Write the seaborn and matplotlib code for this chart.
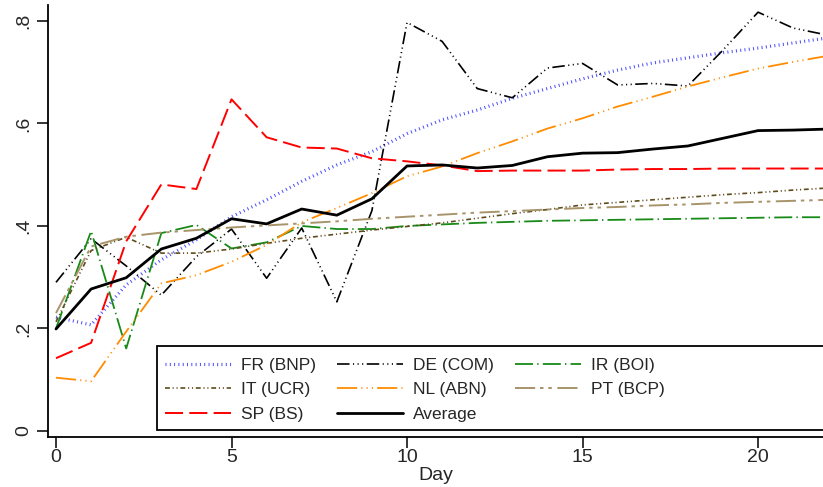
import matplotlib
matplotlib.use("Agg")
import matplotlib.pyplot as plt
from matplotlib.patches import Rectangle
import seaborn as sns
import pandas as pd

days = list(range(23))

fr_bnp = [0.222, 0.207, 0.285, 0.334, 0.373, 0.418, 0.451, 0.487, 0.519, 0.545, 0.580,
          0.607, 0.626, 0.649, 0.668, 0.687, 0.704, 0.718, 0.728, 0.738, 0.747, 0.757, 0.767]
de_com = [0.290, 0.375, 0.322, 0.265, 0.340, 0.394, 0.298, 0.396, 0.252, 0.430, 0.797,
          0.760, 0.668, 0.650, 0.708, 0.717, 0.675, 0.678, 0.673, 0.743, 0.817, 0.786, 0.772]
ir_boi = [0.200, 0.390, 0.161, 0.386, 0.402, 0.356, 0.368, 0.400, 0.394, 0.394, 0.400,
          0.403, 0.406, 0.408, 0.410, 0.411, 0.412, 0.413, 0.414, 0.415, 0.416, 0.417, 0.417]
it_ucr = [0.213, 0.352, 0.378, 0.347, 0.347, 0.355, 0.366, 0.376, 0.384, 0.392, 0.399,
          0.406, 0.415, 0.424, 0.432, 0.441, 0.446, 0.451, 0.456, 0.461, 0.465, 0.470, 0.474]
nl_abn = [0.104, 0.097, 0.194, 0.288, 0.304, 0.330, 0.363, 0.407, 0.435, 0.464, 0.497,
          0.516, 0.542, 0.565, 0.590, 0.610, 0.633, 0.652, 0.672, 0.690, 0.707, 0.720, 0.732]
pt_bcp = [0.230, 0.360, 0.379, 0.387, 0.392, 0.397, 0.401, 0.405, 0.409, 0.414, 0.418,
          0.422, 0.426, 0.429, 0.432, 0.435, 0.437, 0.440, 0.442, 0.445, 0.447, 0.449, 0.451]
sp_bs = [0.142, 0.172, 0.370, 0.481, 0.472, 0.647, 0.573, 0.553, 0.551, 0.532, 0.526,
         0.518, 0.507, 0.508, 0.508, 0.508, 0.510, 0.511, 0.511, 0.512, 0.512, 0.512, 0.512]
average = [0.199, 0.277, 0.299, 0.355, 0.376, 0.414, 0.404, 0.433, 0.421, 0.453, 0.517,
           0.519, 0.513, 0.518, 0.535, 0.542, 0.543, 0.550, 0.556, 0.571, 0.586, 0.587, 0.589]

series_labels = ["FR (BNP)", "IT (UCR)", "SP (BS)", "DE (COM)", "NL (ABN)", "Average", "IR (BOI)", "PT (BCP)"]
series_values = [fr_bnp, it_ucr, sp_bs, de_com, nl_abn, average, ir_boi, pt_bcp]

y_ticks = [0, 0.2, 0.4, 0.6, 0.8]
y_tick_labels = ["0", ".2", ".4", ".6", ".8"]
x_ticks = [0, 5, 10, 15, 20]
x_label = "Day"

styles = {
    "FR (BNP)": dict(color="#4b4bff", lw=2.3, ls=(0, (0.7, 2.4))),
    "IT (UCR)": dict(color="#5e4c1c", lw=1.2, ls=(0, (3.5, 2, 0.8, 2, 0.8, 2))),
    "SP (BS)": dict(color="#ff0000", lw=1.4, ls=(0, (13, 4.5))),
    "DE (COM)": dict(color="#000000", lw=1.2, ls=(0, (9, 2.5, 0.8, 2.5, 0.8, 2.5, 0.8, 2.5))),
    "NL (ABN)": dict(color="#ff8c00", lw=1.3, ls=(0, (14.5, 3, 0.8, 3, 0.8, 3, 0.8, 3))),
    "Average": dict(color="#000000", lw=2.0, ls="-"),
    "IR (BOI)": dict(color="#178a17", lw=1.3, ls=(0, (13, 3, 1, 3))),
    "PT (BCP)": dict(color="#a8946a", lw=1.4, ls=(0, (14.5, 3.5, 2.5, 3.5, 2.5, 4))),
}

sns.set_theme(style="white")
plt.rcParams["font.family"] = ["Liberation Sans", "DejaVu Sans"]
plt.rcParams["lines.scale_dashes"] = False

fig = plt.figure(figsize=(8.23, 4.87), dpi=100)
ax = fig.add_axes([48 / 823, (487 - 437) / 487, (823 - 48) / 823, (437 - 5) / 487])

draw_order = ["FR (BNP)", "DE (COM)", "IR (BOI)", "IT (UCR)", "NL (ABN)", "PT (BCP)", "SP (BS)", "Average"]
lines = {}
for name in draw_order:
    vals = series_values[series_labels.index(name)]
    st = styles[name]
    df = pd.DataFrame({"Day": days, "v": vals})
    sns.lineplot(data=df, x="Day", y="v", ax=ax, color=st["color"], linewidth=st["lw"],
                 linestyle=st["ls"], label=name, legend=False)
    lines[name] = ax.lines[-1]

ax.set_xlim(-0.228, 21.85)
ax.set_ylim(-0.0117, 0.831)
ax.set_xticks(x_ticks)
ax.set_xticklabels([str(t) for t in x_ticks], fontsize=14)
ax.set_yticks(y_ticks)
ax.set_yticklabels(y_tick_labels, rotation=90, va="center", fontsize=14)
ax.set_xlabel(x_label, fontsize=14, labelpad=0)
ax.set_ylabel("")
ax.tick_params(axis="x", pad=1)
ax.tick_params(axis="both", direction="out", length=8, width=1.1, color="black",
               left=True, bottom=True)
ax.tick_params(axis="y", pad=3)
for side in ["top", "right"]:
    ax.spines[side].set_visible(False)
for side in ["left", "bottom"]:
    ax.spines[side].set_color("black")
    ax.spines[side].set_linewidth(1.3)

box = Rectangle((0.1406, 0.0162), 1.0, 0.1944, transform=ax.transAxes, facecolor="white",
                edgecolor="black", linewidth=1.3, zorder=4, clip_on=False)
ax.add_patch(box)

handles = [lines[n] for n in series_labels]
leg = ax.legend(handles, series_labels, ncol=3, loc="lower left",
                bbox_to_anchor=(0.1406, 0.0162), borderaxespad=0, borderpad=0.45,
                frameon=False, fontsize=12.5, handlelength=3.8, handletextpad=0.6,
                columnspacing=1.2, labelspacing=0.55)
leg.set_zorder(5)

fig.savefig("out.png", dpi=100)
